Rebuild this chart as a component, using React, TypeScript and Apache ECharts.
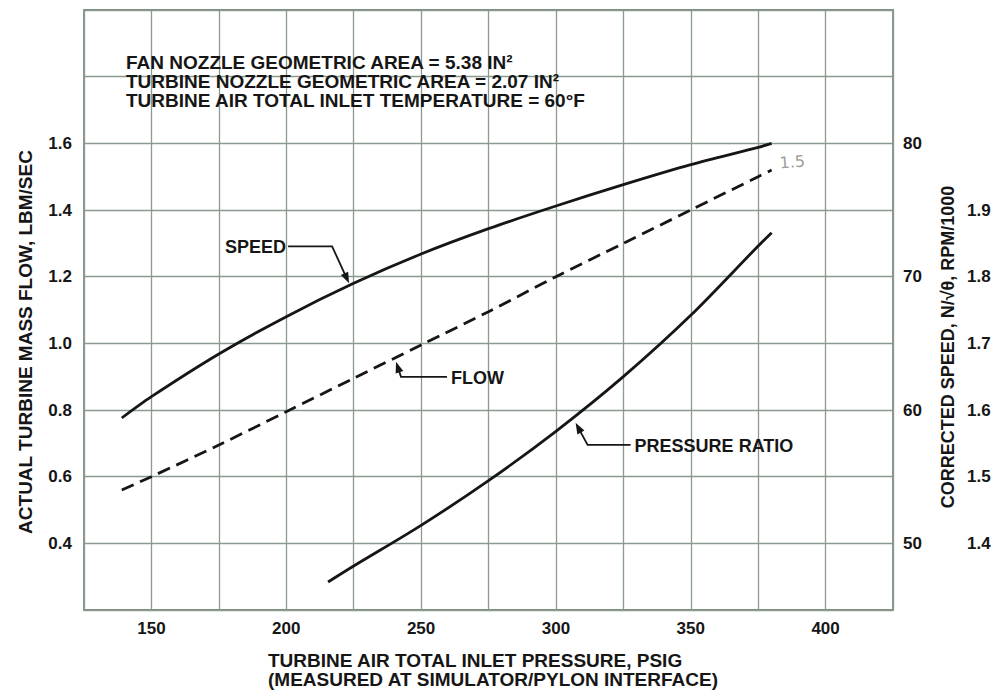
import React, { useEffect, useRef } from "react";
import * as echarts from "echarts";

// Turbine inlet pressure (psig) sampled along each curve
const speedPressure = [139, 150, 175, 200, 225, 250, 275, 300, 325, 350, 375, 380];
const speedRpm = [59.4, 61.0, 64.2, 67.0, 69.5, 71.7, 73.6, 75.3, 76.9, 78.4, 79.7, 80.0];

const flowPressure = [139, 150, 175, 200, 225, 250, 275, 300, 325, 350, 375, 380];
const flowRate = [0.56, 0.6, 0.695, 0.795, 0.895, 0.995, 1.095, 1.2, 1.3, 1.4, 1.5, 1.52];

const prPressure = [215.5, 225, 250, 275, 300, 325, 350, 375, 380];
const prRatio = [1.342, 1.366, 1.427, 1.494, 1.568, 1.65, 1.742, 1.846, 1.866];

// Curve call-outs: label, series index, and the point on the curve the arrow touches
const noteLabels = ["SPEED", "FLOW", "PRESSURE RATIO"];
const noteSeries = [0, 1, 2];
const notePoints: [number, number][] = [
  [223.3, 69.5],
  [240.7, 0.9445],
  [307.3, 1.5807],
];

const headerLines = [
  "FAN NOZZLE GEOMETRIC AREA = 5.38 IN²",
  "TURBINE NOZZLE GEOMETRIC AREA = 2.07 IN²",
  "TURBINE AIR TOTAL INLET TEMPERATURE = 60°F",
];

const xTitle = [
  "TURBINE AIR TOTAL INLET PRESSURE, PSIG",
  "(MEASURED AT SIMULATOR/PYLON INTERFACE)",
];
const leftTitle = "ACTUAL TURBINE MASS FLOW, LBM/SEC";
const rightTitle = "CORRECTED SPEED, N/√θ, RPM/1000";
const flowEndNote = "1.5";

const FONT = '"Liberation Sans", Arial, Helvetica, sans-serif';
const INK = "#161616";
const GRID = "#8b9a8f";

const zip = (xs: number[], ys: number[]) => xs.map((x, i) => [x, ys[i]]);

export default function App() {
  const ref = useRef<HTMLDivElement>(null);

  useEffect(() => {
    document.body.style.margin = "0";
    if (!ref.current) return;
    const chart = echarts.init(ref.current, null, { renderer: "svg" });

    const labelStyle = {
      fontFamily: FONT,
      fontSize: 17,
      fontWeight: "bold" as const,
      color: INK,
    };

    const curve = (width: number) => ({
      type: "line",
      smooth: 0.3,
      showSymbol: false,
      z: 5,
      lineStyle: { color: INK, width },
    });

    chart.setOption({
      animation: false,
      backgroundColor: "#ffffff",
      textStyle: { fontFamily: FONT },
      grid: {
        left: 84,
        right: 104,
        top: 10,
        bottom: 84,
        show: true,
        borderColor: "#7d8d82",
        borderWidth: 1.8,
      },
      xAxis: {
        type: "value",
        min: 125,
        max: 425,
        interval: 25,
        axisLine: { show: false },
        axisTick: { show: false },
        splitLine: { show: true, lineStyle: { color: GRID, width: 1.3 } },
        axisLabel: {
          ...labelStyle,
          margin: 10,
          formatter: (v: number) =>
            v % 50 === 0 && v >= 150 && v <= 400 ? String(v) : "",
        },
      },
      yAxis: [
        {
          type: "value",
          position: "left",
          min: 0.2,
          max: 2.0,
          interval: 0.2,
          axisLine: { show: false },
          axisTick: { show: false },
          splitLine: { show: true, lineStyle: { color: GRID, width: 1.3 } },
          axisLabel: {
            ...labelStyle,
            margin: 12,
            formatter: (v: number) => (v > 0.39 && v < 1.61 ? v.toFixed(1) : ""),
          },
        },
        {
          type: "value",
          position: "right",
          min: 45,
          max: 90,
          interval: 5,
          axisLine: { show: false },
          axisTick: { show: false },
          splitLine: { show: false },
          axisLabel: {
            ...labelStyle,
            margin: 10,
            formatter: (v: number) => {
              const r = Math.round(v);
              return r % 10 === 0 && r >= 50 && r <= 80 ? String(r) : "";
            },
          },
        },
        {
          type: "value",
          position: "right",
          offset: 64,
          min: 1.3,
          max: 2.2,
          interval: 0.1,
          axisLine: { show: false },
          axisTick: { show: false },
          splitLine: { show: false },
          axisLabel: {
            ...labelStyle,
            margin: 10,
            formatter: (v: number) => (v > 1.39 && v < 1.91 ? v.toFixed(1) : ""),
          },
        },
      ],
      series: [
        {
          ...curve(2.8),
          name: "SPEED",
          yAxisIndex: 1,
          data: zip(speedPressure, speedRpm),
        },
        {
          ...curve(2.8),
          name: "FLOW",
          yAxisIndex: 0,
          data: zip(flowPressure, flowRate),
          lineStyle: { color: INK, width: 2.8, type: [13, 7] },
        },
        {
          ...curve(2.8),
          name: "PRESSURE RATIO",
          yAxisIndex: 2,
          data: zip(prPressure, prRatio),
        },
      ],
    });

    // Leader shapes (pixel offsets from the arrow tip): elbow, end of leader
    const leaders: [number, number][][] = [
      [[-17, -37], [-61, -37]],
      [[5, 15], [51, 15]],
      [[12, 22], [55, 22]],
    ];
    const labelSide: ("left" | "right")[] = ["right", "left", "left"];

    const elements: any[] = [];
    notePoints.forEach((pt, i) => {
      const tip = chart.convertToPixel({ seriesIndex: noteSeries[i] }, pt) as number[];
      const [elb, end] = leaders[i];
      const elbow = [tip[0] + elb[0], tip[1] + elb[1]];
      const stop = [tip[0] + end[0], tip[1] + end[1]];
      // arrowhead along elbow -> tip
      const dx = tip[0] - elbow[0];
      const dy = tip[1] - elbow[1];
      const len = Math.hypot(dx, dy);
      const ux = dx / len;
      const uy = dy / len;
      const base = [tip[0] - ux * 11, tip[1] - uy * 11];
      const nx = -uy * 4;
      const ny = ux * 4;
      elements.push({
        type: "polyline",
        shape: { points: [stop, elbow, [tip[0] - ux * 8, tip[1] - uy * 8]] },
        style: { stroke: INK, lineWidth: 1.8, fill: null },
        z: 10,
      });
      elements.push({
        type: "polygon",
        shape: {
          points: [
            [tip[0], tip[1]],
            [base[0] + nx, base[1] + ny],
            [base[0] - nx, base[1] - ny],
          ],
        },
        style: { fill: INK },
        z: 10,
      });
      const side = labelSide[i];
      elements.push({
        type: "text",
        x: side === "right" ? stop[0] - 2 : stop[0] + 4,
        y: stop[1] + 1,
        style: {
          text: noteLabels[i],
          fontFamily: FONT,
          fontSize: 18,
          fontWeight: "bold",
          fill: INK,
          align: side,
          verticalAlign: "middle",
        },
        z: 10,
      });
    });

    // pencilled value at the end of the flow curve
    const flowEnd = chart.convertToPixel({ seriesIndex: 1 }, [
      flowPressure[flowPressure.length - 1],
      flowRate[flowRate.length - 1],
    ]) as number[];
    elements.push({
      type: "text",
      x: flowEnd[0] + 8,
      y: flowEnd[1] - 7,
      rotation: 0.08,
      style: {
        text: flowEndNote,
        fontFamily: '"DejaVu Sans", sans-serif',
        fontSize: 16,
        fill: "#9c9c9c",
        align: "left",
        verticalAlign: "middle",
      },
      z: 10,
    });

    const titleStyle = {
      fontFamily: FONT,
      fontSize: 19,
      fontWeight: "bold",
      fill: INK,
      verticalAlign: "middle",
    };

    headerLines.forEach((t, i) => {
      elements.push({
        type: "text",
        x: 126,
        y: 62 + i * 19,
        style: { ...titleStyle, text: t, align: "left" },
        z: 10,
      });
    });

    xTitle.forEach((t, i) => {
      elements.push({
        type: "text",
        x: 268,
        y: 660 + i * 19,
        style: { ...titleStyle, text: t, align: "left" },
      });
    });

    elements.push({
      type: "text",
      x: 25,
      y: 342,
      rotation: Math.PI / 2,
      style: { ...titleStyle, text: leftTitle, align: "center" },
    });
    elements.push({
      type: "text",
      x: 948,
      y: 347,
      rotation: Math.PI / 2,
      style: { ...titleStyle, fontSize: 18, text: rightTitle, align: "center" },
    });

    chart.setOption({ graphic: { elements } });

    return () => chart.dispose();
  }, []);

  return <div ref={ref} style={{ width: 997, height: 694 }} />;
}
